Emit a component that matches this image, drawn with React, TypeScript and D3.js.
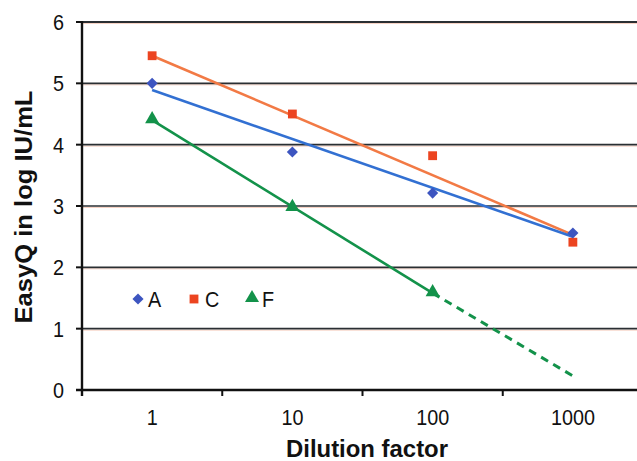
import React from 'react';
import * as d3 from 'd3';

const categories = ['1', '10', '100', '1000'];
const yTicks = [0, 1, 2, 3, 4, 5, 6];

const seriesA = [5.0, 3.88, 3.21, 2.56];
const seriesC = [5.45, 4.5, 3.82, 2.41];
const seriesF = [4.4, 2.97, 1.58];

// trend lines (start, end)
const trendA = [4.89, 2.5];
const trendC = [5.45, 2.53];
const trendF = [4.4, 1.58];
const trendFDashed = [1.58, 0.23];

const W = 637, H = 461;
const left = 82, right = 643, top = 22, bottom = 390;

const App = () => {
  const x = d3.scaleBand().domain(categories).range([left, right]);
  const cx = (c: string) => (x(c) as number) + x.bandwidth() / 2;
  const y = d3.scaleLinear().domain([0, 6]).range([bottom, top]);

  const line = d3.line<[number, number]>().x(d => d[0]).y(d => d[1]);
  const seg = (c0: string, c1: string, v: number[]) =>
    line([[cx(c0), y(v[0])], [cx(c1), y(v[1])]]) as string;

  // diamond = square turned 45 degrees
  const diamond = d3.symbol().type(d3.symbolSquare).size(62)() as string;
  const square = d3.symbol().type(d3.symbolSquare).size(78)() as string;
  const triangle = d3.symbol().type(d3.symbolTriangle).size(85)() as string;

  const blue = '#3d55c0', blueLine = '#3270d2';
  const red = '#ec4420', redLine = '#f27a45';
  const green = '#13924a';
  const font = 'Liberation Sans, Arial, Helvetica, sans-serif';

  const boundaries = categories.map(c => x(c) as number).concat([right]);

  const label = (tx: number, ty: number, s: string, anchor: string, key?: string) => (
    <text key={key} transform={`translate(${tx},${ty}) scale(0.9,1)`} dy="0.36em" textAnchor={anchor}
      fontFamily={font} fontSize={22} fill="#111">{s}</text>
  );

  return (
    <svg width={W} height={H} style={{ position: 'absolute', left: 0, top: 0, background: '#fff' }}>
      {/* grid */}
      {yTicks.filter(t => t > 0).map(t => (
        <g key={t}>
          <line x1={left} x2={W} y1={y(t) + 1.5} y2={y(t) + 1.5} stroke="#f6d2c4" strokeWidth={1} />
          <line x1={left} x2={W} y1={y(t)} y2={y(t)} stroke="#2a2f33" strokeWidth={t === 6 ? 2.2 : 1.6} />
        </g>
      ))}

      {/* axes */}
      <line x1={left} x2={left} y1={top - 1} y2={bottom + 6} stroke="#111" strokeWidth={2.4} />
      <line x1={left - 6} x2={W} y1={bottom} y2={bottom} stroke="#111" strokeWidth={2.4} />
      {yTicks.map(t => (
        <g key={t}>
          <line x1={left - 6} x2={left} y1={y(t)} y2={y(t)} stroke="#111" strokeWidth={2} />
          {label(64, y(t), String(t), 'end')}
        </g>
      ))}
      {boundaries.map((b, i) => (
        <line key={i} x1={b} x2={b} y1={bottom} y2={bottom + 6} stroke="#111" strokeWidth={2} />
      ))}
      {categories.map(c => label(cx(c), 417, c, 'middle', c))}

      {/* titles */}
      <text x={367} y={457} textAnchor="middle" fontFamily={font} fontSize={23} fontWeight="bold" fill="#111"
        textLength={162} lengthAdjust="spacingAndGlyphs">Dilution factor</text>
      <text transform="translate(32,207) rotate(-90)" textAnchor="middle" fontFamily={font} fontSize={24}
        fontWeight="bold" fill="#111" textLength={233} lengthAdjust="spacingAndGlyphs">EasyQ in log IU/mL</text>

      {/* trend lines */}
      <path d={seg('1', '1000', trendC)} stroke={redLine} strokeWidth={2.6} fill="none" />
      <path d={seg('1', '1000', trendA)} stroke={blueLine} strokeWidth={2.6} fill="none" />
      <path d={seg('1', '100', trendF)} stroke={green} strokeWidth={2.6} fill="none" />
      <path d={seg('100', '1000', trendFDashed)} stroke={green} strokeWidth={3} strokeDasharray="8,6" fill="none" />

      {/* markers */}
      {seriesC.map((v, i) => (
        <path key={'c' + i} d={square} transform={`translate(${cx(categories[i])},${y(v)})`} fill={red} />
      ))}
      {seriesA.map((v, i) => (
        <path key={'a' + i} d={diamond} transform={`translate(${cx(categories[i])},${y(v)}) rotate(45)`} fill={blue} />
      ))}
      {seriesF.map((v, i) => (
        <path key={'f' + i} d={triangle} transform={`translate(${cx(categories[i])},${y(v) - 1})`} fill={green} />
      ))}

      {/* legend */}
      <path d={diamond} transform="translate(138,299) rotate(45)" fill={blue} />
      {label(148, 299, 'A', 'start')}
      <path d={square} transform="translate(194,299)" fill={red} />
      {label(205, 299, 'C', 'start')}
      <path d={triangle} transform="translate(252,298)" fill={green} />
      {label(262, 299, 'F', 'start')}
    </svg>
  );
};

export default App;
